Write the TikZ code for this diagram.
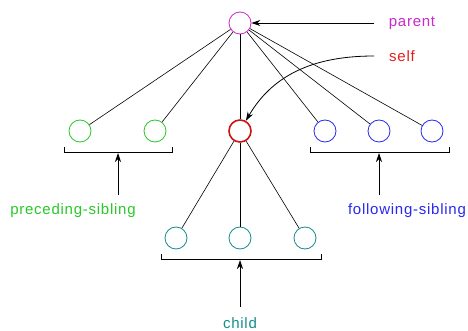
\documentclass[tikz,border=0pt]{standalone}
\usepackage{fontspec}
\setmainfont{Liberation Sans}[LetterSpace=5]
\usetikzlibrary{arrows.meta}
\definecolor{cpar}{RGB}{204,40,204}
\definecolor{cgreen}{RGB}{40,200,40}
\definecolor{cred}{RGB}{200,20,20}
\definecolor{cself}{RGB}{225,30,30}
\definecolor{cblue}{RGB}{40,40,240}
\definecolor{cteal}{RGB}{20,140,140}
\begin{document}
\begin{tikzpicture}[x=1pt,y=-1pt,
  nd/.style={circle,draw,minimum size=22pt,inner sep=0pt,line width=0.8pt},
  lbl/.style={font=\fontsize{15}{16}\selectfont,inner sep=0pt},
  edge/.style={line width=0.6pt},
  arr/.style={line width=0.8pt,-{Stealth[length=9pt,width=6pt]}},
  brk/.style={line width=0.8pt}]
\useasboundingbox (0,0) rectangle (468,331);
\node[nd,draw=cpar] (p) at (240,23) {};
\node[nd,draw=cgreen] (a1) at (80,131) {};
\node[nd,draw=cgreen] (a2) at (155,131) {};
\node[nd,draw=cred,line width=1.6pt] (s) at (240,131) {};
\node[nd,draw=cblue] (f1) at (325,131) {};
\node[nd,draw=cblue] (f2) at (379,131) {};
\node[nd,draw=cblue] (f3) at (432,131) {};
\node[nd,draw=cteal] (c1) at (176,238) {};
\node[nd,draw=cteal] (c2) at (240,238) {};
\node[nd,draw=cteal] (c3) at (305,238) {};
\foreach \n in {a1,a2,s,f1,f2,f3} \draw[edge] (p) -- (\n);
\foreach \n in {c1,c2,c3} \draw[edge] (s) -- (\n);
% labels
\node[lbl,text=cpar] (lp) at (412,23) {parent};
\node[lbl,text=cself] (ls) at (402,56) {self};
\node[lbl,text=cgreen] (lpre) at (73,211) {preceding-sibling};
\node[lbl,text=cblue] (lfol) at (407,211) {following-sibling};
\node[lbl,text=cteal] (lch) at (240,323) {child};
% brackets
\draw[brk] (64,147) |- (172,152) -- (172,147);
\draw[brk] (310,147) |- (449,152) -- (449,147);
\draw[brk] (161,254) |- (321,259) -- (321,254);
\coordinate (bp) at (118,153);
\coordinate (bf) at (379,153);
\coordinate (bc) at (240,260);
\coordinate (tp) at (118,195);
\coordinate (tf) at (379,195);
\coordinate (tc) at (240,307);
\draw[arr] (tp) -- (bp);
\draw[arr] (tf) -- (bf);
\draw[arr] (tc) -- (bc);
\coordinate (ap) at (374,23);
\coordinate (as) at (374,56);
\draw[arr] (ap) -- (p);
\draw[arr] (as) to[out=180,in=60] (s.60);
\end{tikzpicture}
\end{document}
